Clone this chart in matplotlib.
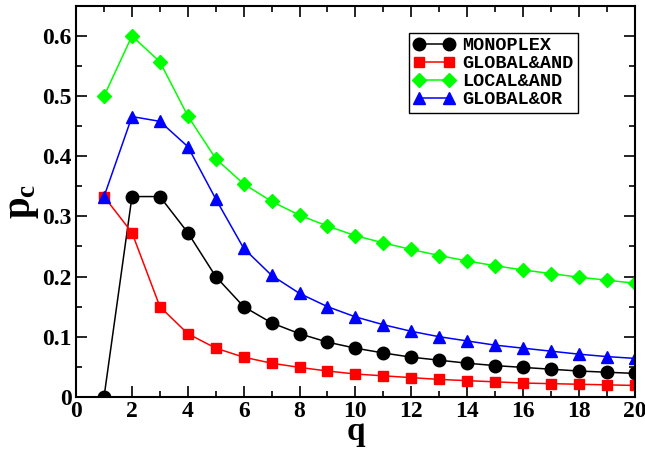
import numpy as np
import matplotlib.pyplot as plt
from matplotlib.ticker import MultipleLocator

plt.rcParams["font.family"] = ["Liberation Serif", "DejaVu Serif"]
plt.rcParams["font.weight"] = "bold"
plt.rcParams["mathtext.fontset"] = "custom"
plt.rcParams["mathtext.rm"] = "Liberation Serif:bold"
plt.rcParams["mathtext.it"] = "Liberation Serif:bold"
plt.rcParams["mathtext.bf"] = "Liberation Serif:bold"

q = list(range(1, 21))

monoplex = [0.0, 0.333, 0.333, 0.273, 0.200, 0.150, 0.123, 0.105, 0.091, 0.081,
            0.073, 0.066, 0.061, 0.056, 0.052, 0.049, 0.046, 0.043, 0.041, 0.039]
global_and = [0.333, 0.273, 0.150, 0.105, 0.081, 0.066, 0.056, 0.049, 0.043, 0.038,
              0.035, 0.032, 0.029, 0.027, 0.025, 0.023, 0.022, 0.021, 0.020, 0.019]
local_and = [0.500, 0.600, 0.557, 0.467, 0.396, 0.354, 0.325, 0.302, 0.284, 0.268,
             0.256, 0.245, 0.235, 0.226, 0.218, 0.211, 0.205, 0.199, 0.194, 0.189]
global_or = [0.333, 0.466, 0.458, 0.416, 0.329, 0.247, 0.202, 0.172, 0.150, 0.133,
             0.120, 0.109, 0.100, 0.093, 0.086, 0.081, 0.076, 0.071, 0.067, 0.064]

series = [
    ("MONOPLEX", monoplex, "black", "o", 9),
    ("GLOBAL&AND", global_and, "#ff0000", "s", 7.5),
    ("LOCAL&AND", local_and, "#00ff00", "D", 7.5),
    ("GLOBAL&OR", global_or, "#0000ff", "^", 9),
]

fig = plt.figure(figsize=(6.45, 4.51), dpi=100)
ax = fig.add_axes([0.118, 0.12, 0.866, 0.867])

for name, vals, col, mk, ms in series:
    ax.plot(q, vals, color=col, marker=mk, markersize=ms, linewidth=1.1,
            markeredgecolor=col, label=name)

ax.set_xlim(0, 20)
ax.set_ylim(0, 0.65)
ax.xaxis.set_major_locator(MultipleLocator(2))
ax.xaxis.set_minor_locator(MultipleLocator(1))
ax.yaxis.set_minor_locator(MultipleLocator(0.05))
ax.set_yticks([0, 0.1, 0.2, 0.3, 0.4, 0.5, 0.6])
ax.set_yticklabels(["0", "0.1", "0.2", "0.3", "0.4", "0.5", "0.6"])

ax.tick_params(which="both", direction="in", top=True, right=True, width=1.2,
               labelsize=17)
ax.tick_params(which="major", length=8, pad=3)
ax.tick_params(which="minor", length=4.3)
for sp in ax.spines.values():
    sp.set_linewidth(1.5)

ax.set_xlabel("q", fontsize=24, fontweight="bold", va="baseline")
ax.xaxis.set_label_coords(0.5, -0.11)
ax.set_ylabel(r"$\mathrm{p_c}$", fontsize=28)
ax.yaxis.set_label_coords(-0.062, 0.5)

leg = ax.legend(loc="upper left", bbox_to_anchor=(0.58, 0.955), numpoints=2,
                prop={"family": "Liberation Mono", "weight": "bold", "size": 13.3},
                frameon=True, fancybox=False, edgecolor="black", handlelength=2.2,
                borderpad=0.25, labelspacing=0.05, handletextpad=0.4,
                framealpha=1)
leg.get_frame().set_linewidth(1.0)

fig.savefig("out.png", dpi=100)
